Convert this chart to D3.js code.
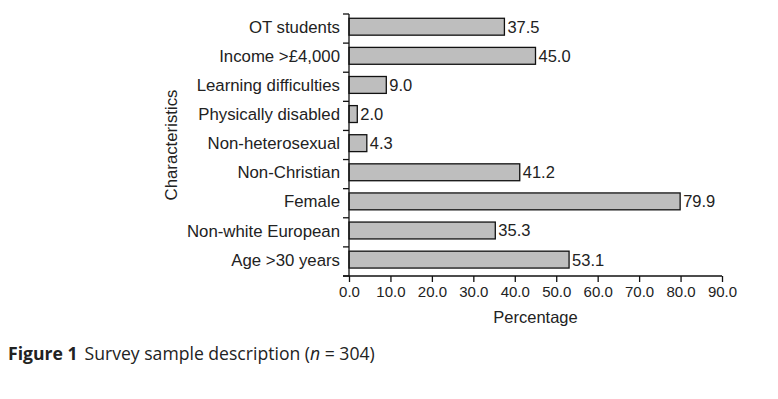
<!DOCTYPE html>
<html lang="en">
<head>
<meta charset="UTF-8"/>
<title>Survey sample description</title>
<script src="https://d3js.org/d3.v7.min.js"></script>
<style>
  body { margin: 0; background: #fff; }
  svg text { font-family: "Liberation Sans", Arial, sans-serif; fill: #222; }
</style>
</head>
<body>
<script>
var categories = ["OT students", "Income >£4,000", "Learning difficulties", "Physically disabled",
                  "Non-heterosexual", "Non-Christian", "Female", "Non-white European", "Age >30 years"];
var values = [37.5, 45.0, 9.0, 2.0, 4.3, 41.2, 79.9, 35.3, 53.1];
var xTicks = [0, 10, 20, 30, 40, 50, 60, 70, 80, 90];

var w = 778, h = 399;
var plotLeft = 349, plotRight = 722, plotTop = 14, plotBottom = 276;

var svg = d3.select("body").append("svg")
    .attr("width", w)
    .attr("height", h);

var xScale = d3.scaleLinear().domain([0, 90]).range([plotLeft, plotRight]);
var yScale = d3.scaleBand().domain(categories).range([plotTop, plotBottom])
    .paddingInner(0.42).paddingOuter(0.21).align(0.35);

// bars
svg.selectAll("rect.bar")
    .data(values)
    .enter()
    .append("rect")
    .attr("class", "bar")
    .attr("x", xScale(0))
    .attr("y", function(d, i) { return yScale(categories[i]); })
    .attr("width", function(d) { return xScale(d) - xScale(0); })
    .attr("height", yScale.bandwidth())
    .attr("fill", "#bebebe")
    .attr("stroke", "#111")
    .attr("stroke-width", 1.3);

// value labels
svg.selectAll("text.val")
    .data(values)
    .enter()
    .append("text")
    .attr("class", "val")
    .attr("x", function(d) { return xScale(d) + 3; })
    .attr("y", function(d, i) { return yScale(categories[i]) + yScale.bandwidth() / 2; })
    .attr("dy", "0.36em")
    .attr("font-size", "16.5px")
    .text(function(d) { return d.toFixed(1); });

// y axis: ticks at band boundaries
var bounds = d3.range(categories.length + 1).map(function(i) {
    return plotTop + i * (plotBottom - plotTop) / categories.length;
});
var yAx = svg.append("g");
yAx.append("line")
    .attr("x1", plotLeft).attr("x2", plotLeft)
    .attr("y1", plotTop).attr("y2", plotBottom)
    .attr("stroke", "#111").attr("stroke-width", 1.3);
yAx.selectAll("line.tk")
    .data(bounds)
    .enter()
    .append("line")
    .attr("class", "tk")
    .attr("x1", plotLeft - 6).attr("x2", plotLeft)
    .attr("y1", function(d) { return d; }).attr("y2", function(d) { return d; })
    .attr("stroke", "#111").attr("stroke-width", 1.3);
yAx.selectAll("text")
    .data(categories)
    .enter()
    .append("text")
    .attr("x", plotLeft - 9)
    .attr("y", function(d) { return yScale(d) + yScale.bandwidth() / 2; })
    .attr("dy", "0.36em")
    .attr("text-anchor", "end")
    .attr("font-size", "16.8px")
    .text(function(d) { return d; });

// x axis
var xAxis = d3.axisBottom(xScale).tickValues(xTicks).tickSize(6).tickPadding(4)
    .tickFormat(function(d) { return d.toFixed(1); });
var gx = svg.append("g")
    .attr("transform", "translate(0," + plotBottom + ")")
    .call(xAxis);
gx.select(".domain").remove();
gx.append("line")
    .attr("x1", plotLeft - 6).attr("x2", plotRight)
    .attr("stroke", "#111").attr("stroke-width", 1.3);
gx.selectAll(".tick line").attr("stroke", "#111").attr("stroke-width", 1.3);
gx.selectAll(".tick text")
    .attr("font-size", "15px")
    .attr("fill", "#222")
    .style("font-family", "'Liberation Sans', Arial, sans-serif");

svg.append("text")
    .attr("x", (plotLeft + plotRight) / 2)
    .attr("y", 323)
    .attr("text-anchor", "middle")
    .attr("font-size", "16.5px")
    .text("Percentage");

svg.append("text")
    .attr("transform", "translate(177," + ((plotTop + plotBottom) / 2) + ") rotate(-90)")
    .attr("text-anchor", "middle")
    .attr("font-size", "16.8px")
    .text("Characteristics");

// caption
var cap = svg.append("text")
    .attr("x", 8)
    .attr("y", 360)
    .attr("font-size", "17.6px")
    .style("font-family", "'Open Sans', 'Noto Sans', sans-serif")
    .attr("fill", "#111");
cap.append("tspan").attr("font-weight", "bold").text("Figure 1");
cap.append("tspan").attr("dx", 7).text("Survey sample description (");
cap.append("tspan").attr("font-style", "italic").text("n");
cap.append("tspan").text(" = 304)");
</script>
</body>
</html>
